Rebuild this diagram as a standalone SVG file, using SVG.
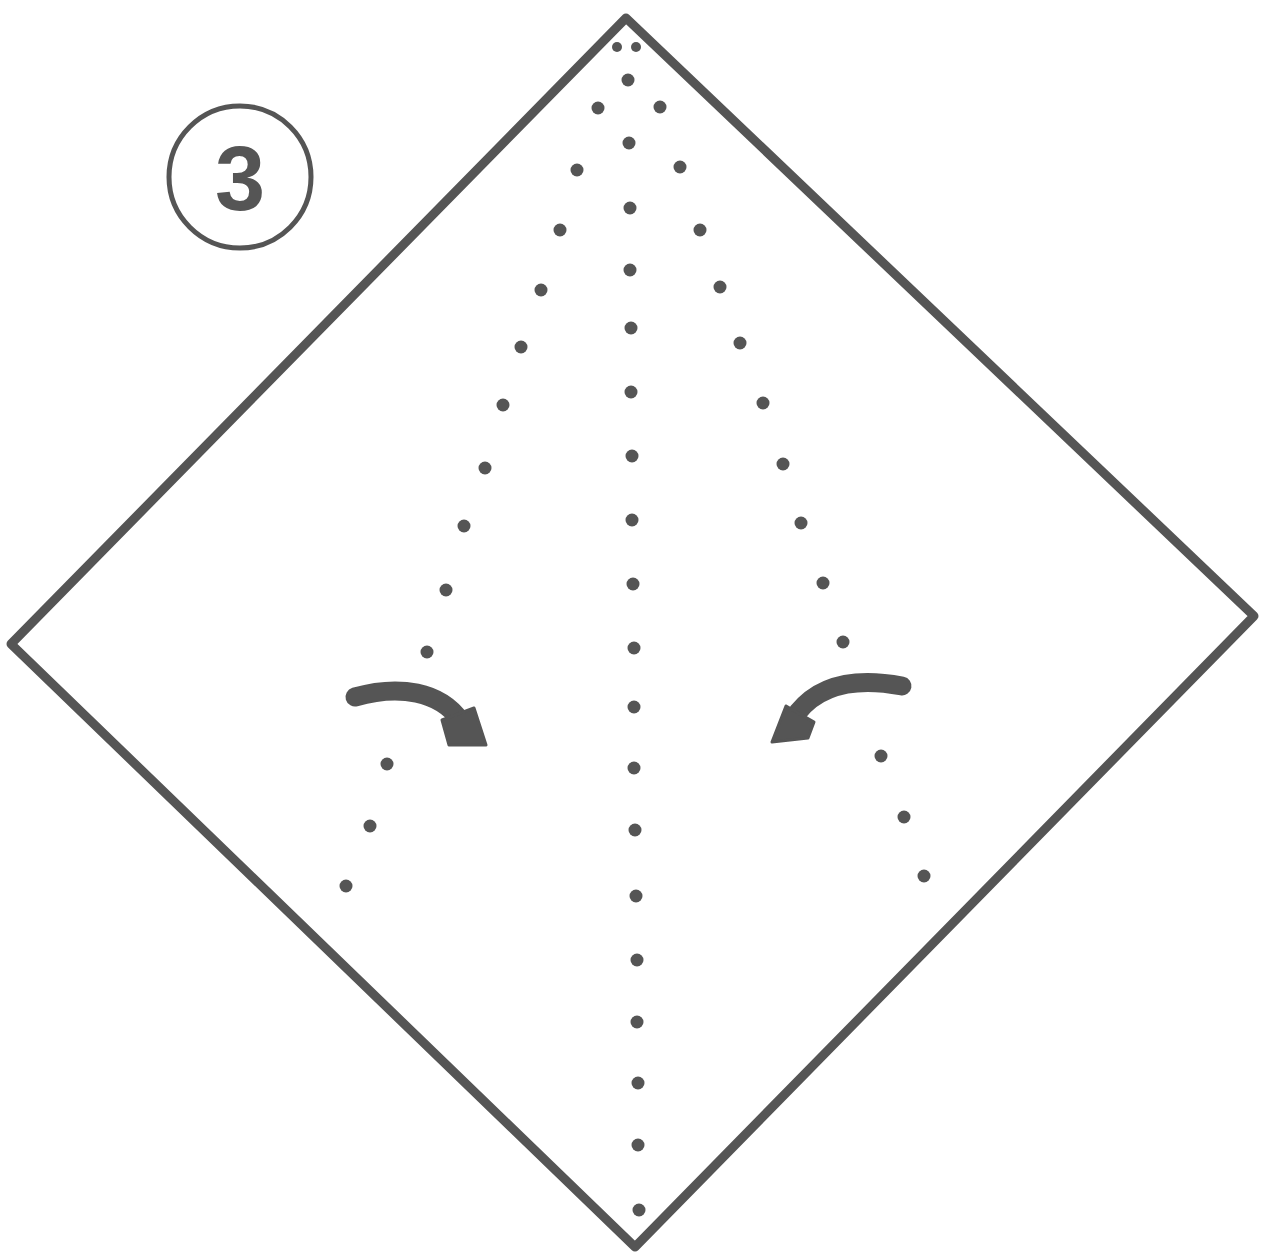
<svg xmlns="http://www.w3.org/2000/svg" width="1261" height="1257" viewBox="0 0 1261 1257">
<style>
.line{fill:none;stroke:#555;stroke-width:9;stroke-linejoin:round;stroke-linecap:round}
.dot{fill:#555}
.arr{fill:none;stroke:#555;stroke-width:19;stroke-linecap:round}
.head{fill:#555;stroke:#555;stroke-width:3;stroke-linejoin:round}
</style>
<rect width="1261" height="1257" fill="#fff"/>
<g id="paper">
<polygon class="line" points="626,18 1254,616 635,1247 11,644"/>
</g>
<g id="step-number">
<circle cx="240" cy="177" r="71" fill="none" stroke="#555" stroke-width="5"/>
<text x="240" y="210" text-anchor="middle" font-family="Liberation Sans, Arial, sans-serif" font-size="90" font-weight="bold" fill="#555">3</text>
</g>
<g id="folds">
<circle class="dot" cx="617" cy="47" r="5"/><circle class="dot" cx="636" cy="47" r="5"/>
<circle class="dot" cx="628" cy="80" r="6.5"/><circle class="dot" cx="629" cy="143" r="6.5"/><circle class="dot" cx="630" cy="208" r="6.5"/><circle class="dot" cx="630" cy="270" r="6.5"/><circle class="dot" cx="631" cy="328" r="6.5"/><circle class="dot" cx="631" cy="392" r="6.5"/><circle class="dot" cx="632" cy="456" r="6.5"/><circle class="dot" cx="632" cy="520" r="6.5"/><circle class="dot" cx="633" cy="584" r="6.5"/><circle class="dot" cx="634" cy="648" r="6.5"/><circle class="dot" cx="634" cy="707" r="6.5"/><circle class="dot" cx="634" cy="768" r="6.5"/><circle class="dot" cx="635" cy="830" r="6.5"/><circle class="dot" cx="636" cy="896" r="6.5"/><circle class="dot" cx="637" cy="960" r="6.5"/><circle class="dot" cx="637" cy="1022" r="6.5"/><circle class="dot" cx="638" cy="1083" r="6.5"/><circle class="dot" cx="638" cy="1145" r="6.5"/><circle class="dot" cx="639" cy="1210" r="6.5"/>
<circle class="dot" cx="598" cy="108" r="6.5"/><circle class="dot" cx="577" cy="170" r="6.5"/><circle class="dot" cx="560" cy="230" r="6.5"/><circle class="dot" cx="541" cy="290" r="6.5"/><circle class="dot" cx="521" cy="347" r="6.5"/><circle class="dot" cx="503" cy="405" r="6.5"/><circle class="dot" cx="485" cy="468" r="6.5"/><circle class="dot" cx="464" cy="526" r="6.5"/><circle class="dot" cx="446" cy="590" r="6.5"/><circle class="dot" cx="427" cy="652" r="6.5"/><circle class="dot" cx="387" cy="764" r="6.5"/><circle class="dot" cx="370" cy="826" r="6.5"/><circle class="dot" cx="346" cy="886" r="6.5"/>
<circle class="dot" cx="660" cy="107" r="6.5"/><circle class="dot" cx="680" cy="167" r="6.5"/><circle class="dot" cx="700" cy="230" r="6.5"/><circle class="dot" cx="720" cy="287" r="6.5"/><circle class="dot" cx="740" cy="343" r="6.5"/><circle class="dot" cx="763" cy="403" r="6.5"/><circle class="dot" cx="783" cy="464" r="6.5"/><circle class="dot" cx="801" cy="523" r="6.5"/><circle class="dot" cx="823" cy="583" r="6.5"/><circle class="dot" cx="843" cy="642" r="6.5"/><circle class="dot" cx="881" cy="756" r="6.5"/><circle class="dot" cx="904" cy="817" r="6.5"/><circle class="dot" cx="924" cy="876" r="6.5"/>
</g>
<g id="connectors">
<path class="arr" d="M355,697 C400,684 440,692 460,720"/>
<polygon class="head" points="442,720 474,708 486,745 449,745"/>
<path class="arr" d="M902,686 C860,678 822,682 798,712"/>
<polygon class="head" points="786,706 814,722 808,738 772,742"/>
</g>
</svg>
